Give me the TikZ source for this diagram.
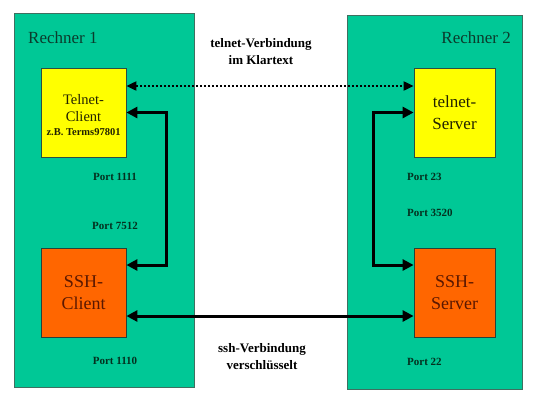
\documentclass[tikz,border=0pt]{standalone}
\usepackage{fontspec}
\setmainfont{Liberation Serif}
\usetikzlibrary{arrows.meta}
\definecolor{rgreen}{HTML}{00C896}
\definecolor{rborder}{HTML}{3F6F60}
\definecolor{ryellow}{HTML}{FFFF00}
\definecolor{rorange}{HTML}{FF6600}
\definecolor{rtext}{HTML}{0B3B2C}
\definecolor{porttext}{HTML}{04301F}
\definecolor{sshtext}{HTML}{5A1800}
\definecolor{teltext}{HTML}{222200}
\tikzset{
  rechner/.style={draw=rborder, line width=0.8pt, fill=rgreen, inner sep=0pt},
  telbox/.style={draw=rborder!70!black, line width=0.8pt, fill=ryellow, inner sep=0pt, align=center, text=teltext},
  sshbox/.style={draw=rborder!60!black, line width=0.8pt, fill=rorange, inner sep=0pt, align=center, text=sshtext},
  portlbl/.style={font=\fontsize{11}{13}\selectfont\bfseries, text=porttext, inner sep=0pt},
  rlbl/.style={font=\fontsize{17}{20}\selectfont, text=rtext, inner sep=0pt},
  connlbl/.style={font=\fontsize{13}{17}\selectfont\bfseries, align=center, inner sep=0pt},
  thickarrow/.style={line width=3pt, {Triangle[length=11pt,width=11pt]}-{Triangle[length=11pt,width=11pt]}},
  dotarrow/.style={line width=2pt, dash pattern=on 2pt off 2pt, {Triangle[length=10pt,width=9pt]}-{Triangle[length=10pt,width=9pt]}}
}
\begin{document}
\begin{tikzpicture}[x=1pt,y=-1pt]
\useasboundingbox (0,0) rectangle (540,405);
\node[rechner, minimum width=180pt, minimum height=374pt] (r1) at (104,200) {};
\node[rechner, minimum width=175pt, minimum height=374pt] (r2) at (434.5,202) {};
\node[rlbl, anchor=west] (r1l) at (28,38) {Rechner 1};
\node[rlbl, anchor=east] (r2l) at (511,38) {Rechner 2};
\node[telbox, minimum width=85pt, minimum height=89pt, font=\fontsize{14.5}{17}\selectfont] (tc) at (83.5,112.5)
  {\rule{0pt}{16pt}Telnet-\\Client\\[-3pt]{\fontsize{10.5}{12}\selectfont\bfseries z.B. Terms97801}};
\node[telbox, minimum width=81pt, minimum height=89pt, font=\fontsize{17}{22}\selectfont] (ts) at (454.5,112.5) {telnet-\\Server};
\node[sshbox, minimum width=85pt, minimum height=89pt, font=\fontsize{18}{22}\selectfont] (sc) at (83.5,292.5) {SSH-\\Client};
\node[sshbox, minimum width=81pt, minimum height=89pt, font=\fontsize{18}{22}\selectfont] (ss) at (454.5,292.5) {SSH-\\Server};
\node[portlbl] (p1111) at (115,177) {Port 1111};
\node[portlbl] (p7512) at (115,226) {Port 7512};
\node[portlbl] (p1110) at (115,361) {Port 1110};
\node[portlbl, anchor=west] (p23) at (407,177) {Port 23};
\node[portlbl, anchor=west] (p3520) at (407,213) {Port 3520};
\node[portlbl, anchor=west] (p22) at (407,362) {Port 22};
\node[connlbl] (tv) at (261,52) {telnet-Verbindung\\im Klartext};
\node[connlbl] (sv) at (262,357) {ssh-Verbindung\\verschlüsselt};
\draw[dotarrow] ([yshift=26.5pt]tc.east) -- ([yshift=26.5pt]ts.west);
\draw[thickarrow] (tc.east) -- ++(40,0) |- ([yshift=27.5pt]sc.east);
\draw[thickarrow] (ts.west) -- ++(-40,0) |- ([yshift=27.5pt]ss.west);
\draw[thickarrow] ([yshift=-23.5pt]sc.east) -- ([yshift=-23.5pt]ss.west);
\end{tikzpicture}
\end{document}
